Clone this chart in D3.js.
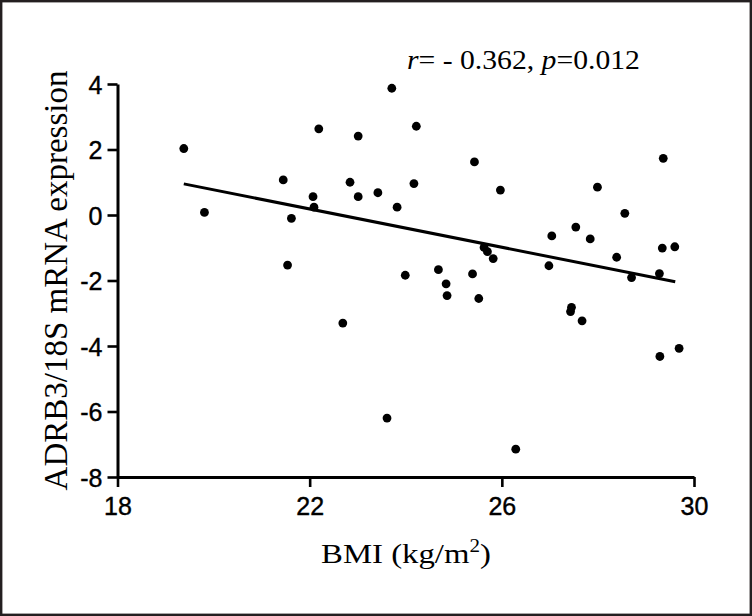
<!DOCTYPE html>
<html>
<head>
<meta charset="utf-8">
<script src="https://cdn.jsdelivr.net/npm/d3@7"></script>
<style>
  body { margin:0; background:#fff; }
  svg { display:block; }
  .serif { font-family:"Liberation Serif", "Times New Roman", serif; fill:#000; }
</style>
</head>
<body>
<svg id="chart" width="752" height="616"></svg>
<script>
// BMI (kg/m2) vs ADRB3/18S mRNA expression
const bmi = [19.38, 19.81, 21.45, 21.62, 21.54, 22.07, 22.09, 22.19, 22.69, 22.84, 23.01, 23.01, 23.42, 23.71,
  23.61, 23.82, 23.99, 24.17, 24.22, 24.68, 24.84, 24.86, 25.39, 25.43, 25.52, 25.63, 25.70, 25.82, 25.97, 26.29,
  26.98, 27.04, 27.43, 27.45, 27.54, 27.67, 27.84, 27.99, 28.39, 28.56, 28.70, 29.28, 29.29, 29.34, 29.36, 29.60, 29.69];
const expr = [2.03, 0.08, 1.07, -0.10, -1.53, 0.56, 0.24, 2.63, -3.30, 1.00, 2.41, 0.56, 0.68, 3.87,
  -6.20, 0.24, -1.84, 0.96, 2.71, -1.67, -2.10, -2.46, -1.80, 1.62, -2.55, -0.99, -1.12, -1.33, 0.76, -7.15,
  -1.55, -0.64, -2.95, -2.82, -0.37, -3.23, -0.73, 0.85, -1.29, 0.05, -1.91, -1.79, -4.32, -1.01, 1.73, -0.97, -4.07];
// regression line end points
const fitX = [19.38, 29.61];
const fitY = [0.95, -2.04];
const xTicks = [18, 22, 26, 30];
const yTicks = [4, 2, 0, -2, -4, -6, -8];

const svg = d3.select("#chart");
svg.append("rect").attr("x", 1.2).attr("y", 1.2).attr("width", 749.6).attr("height", 613.6)
  .attr("fill", "#fff").attr("stroke", "#231f20").attr("stroke-width", 2.4);

const x = d3.scaleLinear().domain([18, 30]).range([117.5, 694]);
const y = d3.scaleLinear().domain([-8, 4]).range([477, 84]);

const styleAxis = g => {
  g.attr("font-family", null).attr("font-size", null);
  g.select(".domain").attr("stroke", "#000").attr("stroke-width", 3);
  g.selectAll(".tick line").attr("stroke", "#000").attr("stroke-width", 2.6);
  g.selectAll(".tick text").attr("font-family", "Liberation Sans, Arial, sans-serif").attr("font-size", 25)
    .attr("fill", "#000").attr("stroke", "#000").attr("stroke-width", 0.4);
};
svg.append("g").attr("transform", `translate(0,${y(-8)})`)
  .call(d3.axisBottom(x).tickValues(xTicks).tickSize(10).tickSizeOuter(0).tickPadding(4).tickFormat(d => String(d)))
  .call(styleAxis).call(g => g.selectAll(".tick text").attr("dy", "24px"));
svg.append("g").attr("transform", `translate(${x(18)},0)`)
  .call(d3.axisLeft(y).tickValues(yTicks).tickSize(10).tickSizeOuter(0).tickPadding(5).tickFormat(d => String(d)))
  .call(styleAxis).call(g => g.selectAll(".tick text").attr("dy", "0.36em"));

// points
svg.append("g").selectAll("circle").data(d3.zip(bmi, expr)).join("circle")
  .attr("cx", d => x(d[0])).attr("cy", d => y(d[1])).attr("r", 4.4).attr("fill", "#000");

// fitted line
svg.append("path").datum(d3.zip(fitX, fitY))
  .attr("d", d3.line().x(d => x(d[0])).y(d => y(d[1])))
  .attr("fill", "none").attr("stroke", "#000").attr("stroke-width", 3);

// annotation
const note = svg.append("g").attr("transform", "translate(407,69) scale(1.12,1)")
  .append("text").attr("class", "serif").attr("font-size", 26.5);
note.append("tspan").attr("font-style", "italic").text("r");
note.append("tspan").text("= - 0.362, ");
note.append("tspan").attr("font-style", "italic").text("p");
note.append("tspan").text("=0.012");

// axis titles
const xt = svg.append("g").attr("transform", "translate(406,563) scale(1.17,1)")
  .append("text").attr("class", "serif").attr("font-size", 28).attr("text-anchor", "middle");
xt.append("tspan").text("BMI (kg/m");
xt.append("tspan").attr("font-size", 18).attr("dy", -11).text("2");
xt.append("tspan").attr("dy", 11).text(")");

svg.append("text").attr("class", "serif").attr("font-size", 33).attr("text-anchor", "middle")
  .attr("transform", "translate(67,280.5) rotate(-90)")
  .text("ADRB3/18S mRNA expression");
</script>
</body>
</html>
